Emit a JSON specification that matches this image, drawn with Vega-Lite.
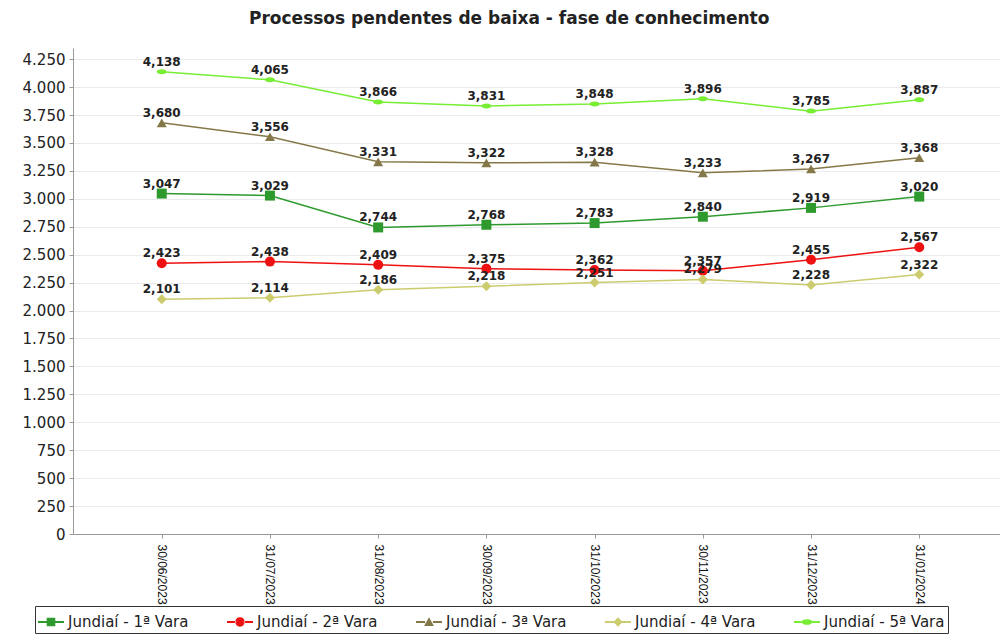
{
  "$schema": "https://vega.github.io/schema/vega-lite/v6.json",
  "autosize": "none",
  "padding": {"left": 73, "top": 48, "right": 0, "bottom": 100},
  "width": 935,
  "height": 486,
  "background": "white",
  "title": {
    "text": "Processos pendentes de baixa - fase de conhecimento",
    "font": "DejaVu Sans",
    "fontWeight": "bold",
    "fontSize": 17,
    "color": "#222222",
    "anchor": "start",
    "frame": "group",
    "dx": 176,
    "offset": 20
  },
  "data": {
    "values": [
      {"data": "30/06/2023", "serie": "Jundiaí - 1ª Vara", "valor": 3047},
      {"data": "31/07/2023", "serie": "Jundiaí - 1ª Vara", "valor": 3029},
      {"data": "31/08/2023", "serie": "Jundiaí - 1ª Vara", "valor": 2744},
      {"data": "30/09/2023", "serie": "Jundiaí - 1ª Vara", "valor": 2768},
      {"data": "31/10/2023", "serie": "Jundiaí - 1ª Vara", "valor": 2783},
      {"data": "30/11/2023", "serie": "Jundiaí - 1ª Vara", "valor": 2840},
      {"data": "31/12/2023", "serie": "Jundiaí - 1ª Vara", "valor": 2919},
      {"data": "31/01/2024", "serie": "Jundiaí - 1ª Vara", "valor": 3020},
      {"data": "30/06/2023", "serie": "Jundiaí - 2ª Vara", "valor": 2423},
      {"data": "31/07/2023", "serie": "Jundiaí - 2ª Vara", "valor": 2438},
      {"data": "31/08/2023", "serie": "Jundiaí - 2ª Vara", "valor": 2409},
      {"data": "30/09/2023", "serie": "Jundiaí - 2ª Vara", "valor": 2375},
      {"data": "31/10/2023", "serie": "Jundiaí - 2ª Vara", "valor": 2362},
      {"data": "30/11/2023", "serie": "Jundiaí - 2ª Vara", "valor": 2357},
      {"data": "31/12/2023", "serie": "Jundiaí - 2ª Vara", "valor": 2455},
      {"data": "31/01/2024", "serie": "Jundiaí - 2ª Vara", "valor": 2567},
      {"data": "30/06/2023", "serie": "Jundiaí - 3ª Vara", "valor": 3680},
      {"data": "31/07/2023", "serie": "Jundiaí - 3ª Vara", "valor": 3556},
      {"data": "31/08/2023", "serie": "Jundiaí - 3ª Vara", "valor": 3331},
      {"data": "30/09/2023", "serie": "Jundiaí - 3ª Vara", "valor": 3322},
      {"data": "31/10/2023", "serie": "Jundiaí - 3ª Vara", "valor": 3328},
      {"data": "30/11/2023", "serie": "Jundiaí - 3ª Vara", "valor": 3233},
      {"data": "31/12/2023", "serie": "Jundiaí - 3ª Vara", "valor": 3267},
      {"data": "31/01/2024", "serie": "Jundiaí - 3ª Vara", "valor": 3368},
      {"data": "30/06/2023", "serie": "Jundiaí - 4ª Vara", "valor": 2101},
      {"data": "31/07/2023", "serie": "Jundiaí - 4ª Vara", "valor": 2114},
      {"data": "31/08/2023", "serie": "Jundiaí - 4ª Vara", "valor": 2186},
      {"data": "30/09/2023", "serie": "Jundiaí - 4ª Vara", "valor": 2218},
      {"data": "31/10/2023", "serie": "Jundiaí - 4ª Vara", "valor": 2251},
      {"data": "30/11/2023", "serie": "Jundiaí - 4ª Vara", "valor": 2279},
      {"data": "31/12/2023", "serie": "Jundiaí - 4ª Vara", "valor": 2228},
      {"data": "31/01/2024", "serie": "Jundiaí - 4ª Vara", "valor": 2322},
      {"data": "30/06/2023", "serie": "Jundiaí - 5ª Vara", "valor": 4138},
      {"data": "31/07/2023", "serie": "Jundiaí - 5ª Vara", "valor": 4065},
      {"data": "31/08/2023", "serie": "Jundiaí - 5ª Vara", "valor": 3866},
      {"data": "30/09/2023", "serie": "Jundiaí - 5ª Vara", "valor": 3831},
      {"data": "31/10/2023", "serie": "Jundiaí - 5ª Vara", "valor": 3848},
      {"data": "30/11/2023", "serie": "Jundiaí - 5ª Vara", "valor": 3896},
      {"data": "31/12/2023", "serie": "Jundiaí - 5ª Vara", "valor": 3785},
      {"data": "31/01/2024", "serie": "Jundiaí - 5ª Vara", "valor": 3887}
    ]
  },
  "encoding": {
    "x": {
      "field": "data",
      "type": "ordinal",
      "sort": null,
      "title": null,
      "scale": {"type": "point", "padding": 0.82},
      "axis": {
        "labelAngle": 90,
        "labelAlign": "left",
        "labelBaseline": "middle",
        "labelFont": "Liberation Sans",
        "labelFontSize": 12,
        "labelColor": "#111111",
        "labelPadding": 6,
        "domainColor": "#999999",
        "tickColor": "#999999",
        "tickSize": 4,
        "grid": false
      }
    },
    "y": {
      "field": "valor",
      "type": "quantitative",
      "title": null,
      "scale": {"domain": [0, 4350], "nice": false},
      "axis": {
        "values": [0, 250, 500, 750, 1000, 1250, 1500, 1750, 2000, 2250, 2500, 2750, 3000, 3250, 3500, 3750, 4000, 4250],
        "labelExpr": "replace(format(datum.value, ','), ',', '.')",
        "labelFont": "DejaVu Sans",
        "labelFontSize": 15,
        "labelColor": "#222222",
        "labelPadding": 4,
        "domainColor": "#999999",
        "tickColor": "#999999",
        "tickSize": 4,
        "gridColor": "#ebebeb",
        "gridWidth": 1.2
      }
    }
  },
  "layer": [
    {
      "mark": {"type": "line", "strokeWidth": 1.5},
      "encoding": {
        "color": {
          "field": "serie",
          "type": "nominal",
          "legend": null,
          "scale": {
            "domain": ["Jundiaí - 1ª Vara", "Jundiaí - 2ª Vara", "Jundiaí - 3ª Vara", "Jundiaí - 4ª Vara", "Jundiaí - 5ª Vara"],
            "range": ["#2e9a2e", "#ee1111", "#857848", "#cccc6e", "#77ee33"]
          }
        }
      }
    },
    {
      "mark": {"type": "point", "filled": true, "opacity": 1, "size": 100},
      "encoding": {
        "color": {
          "field": "serie",
          "type": "nominal",
          "legend": null,
          "scale": {
            "domain": ["Jundiaí - 1ª Vara", "Jundiaí - 2ª Vara", "Jundiaí - 3ª Vara", "Jundiaí - 4ª Vara", "Jundiaí - 5ª Vara"],
            "range": ["#2e9a2e", "#ee1111", "#857848", "#cccc6e", "#77ee33"]
          }
        },
        "shape": {
          "field": "serie",
          "type": "nominal",
          "legend": null,
          "scale": {
            "domain": ["Jundiaí - 1ª Vara", "Jundiaí - 2ª Vara", "Jundiaí - 3ª Vara", "Jundiaí - 4ª Vara", "Jundiaí - 5ª Vara"],
            "range": ["square", "circle", "triangle-up", "diamond", "M-1,0A1,0.5 0 1,0 1,0A1,0.5 0 1,0 -1,0Z"]
          }
        }
      }
    },
    {
      "mark": {"type": "text", "dy": -10, "font": "DejaVu Sans", "fontWeight": "bold", "fontSize": 12, "color": "#222222"},
      "encoding": {
        "text": {"field": "valor", "type": "quantitative", "format": ",d"}
      }
    },
    {
      "transform": [{"filter": "false"}],
      "mark": {"type": "point", "filled": true, "opacity": 1},
      "encoding": {
        "color": {
          "field": "serie",
          "type": "nominal",
          "scale": {
            "domain": ["Jundiaí - 1ª Vara", "Jundiaí - 2ª Vara", "Jundiaí - 3ª Vara", "Jundiaí - 4ª Vara", "Jundiaí - 5ª Vara"],
            "range": ["#2e9a2e", "#ee1111", "#857848", "#cccc6e", "#77ee33"]
          },
          "legend": {
            "title": null,
            "orient": "none",
            "legendX": -38,
            "legendY": 558,
            "direction": "horizontal",
            "columns": 5,
            "strokeColor": "#333333",
            "fillColor": "white",
            "padding": 3,
            "columnPadding": 38,
            "symbolSize": 676,
            "symbolStrokeWidth": 0,
            "symbolOpacity": 1,
            "labelOffset": 4,
            "labelFont": "DejaVu Sans",
            "labelFontSize": 15,
            "labelColor": "#222222",
            "labelLimit": 200
          }
        },
        "shape": {
          "field": "serie",
          "type": "nominal",
          "scale": {
            "domain": ["Jundiaí - 1ª Vara", "Jundiaí - 2ª Vara", "Jundiaí - 3ª Vara", "Jundiaí - 4ª Vara", "Jundiaí - 5ª Vara"],
            "range": [
              "M-1,-0.07H-0.3V0.07H-1Z M0.3,-0.07H1V0.07H0.3Z M-0.33,-0.33H0.33V0.33H-0.33Z",
              "M-1,-0.07H-0.3V0.07H-1Z M0.3,-0.07H1V0.07H0.3Z M-0.36,0A0.36,0.36 0 1,0 0.36,0A0.36,0.36 0 1,0 -0.36,0Z",
              "M-1,-0.07H-0.3V0.07H-1Z M0.3,-0.07H1V0.07H0.3Z M0,-0.36L0.38,0.3H-0.38Z",
              "M-1,-0.07H-0.3V0.07H-1Z M0.3,-0.07H1V0.07H0.3Z M0,-0.36L0.36,0L0,0.36L-0.36,0Z",
              "M-1,-0.07H-0.4V0.07H-1Z M0.4,-0.07H1V0.07H0.4Z M-0.42,0A0.42,0.22 0 1,0 0.42,0A0.42,0.22 0 1,0 -0.42,0Z"
            ]
          },
          "legend": {
            "title": null,
            "orient": "none",
            "legendX": -38,
            "legendY": 558,
            "direction": "horizontal",
            "columns": 5,
            "strokeColor": "#333333",
            "fillColor": "white",
            "padding": 3,
            "columnPadding": 38,
            "symbolSize": 676,
            "symbolStrokeWidth": 0,
            "symbolOpacity": 1,
            "labelOffset": 4,
            "labelFont": "DejaVu Sans",
            "labelFontSize": 15,
            "labelColor": "#222222",
            "labelLimit": 200
          }
        }
      }
    }
  ],
  "resolve": {"scale": {"color": "independent", "shape": "independent"}},
  "config": {
    "view": {"stroke": null}
  }
}
